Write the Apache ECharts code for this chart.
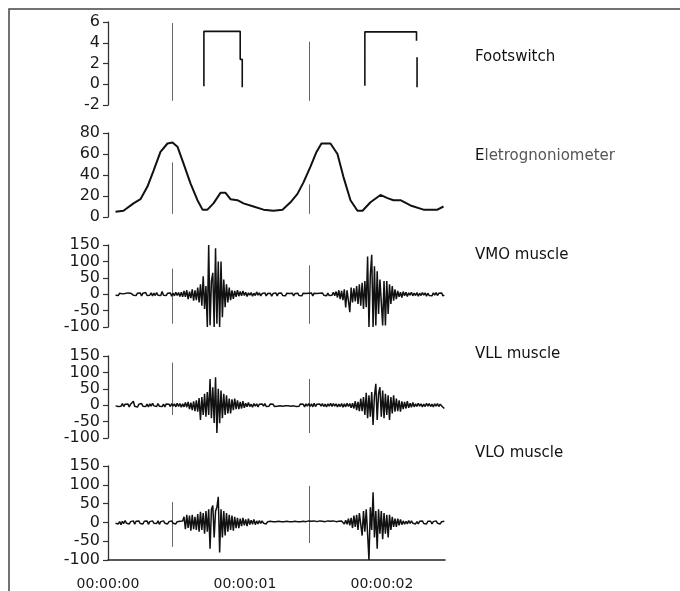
<!DOCTYPE html>
<html>
<head>
<meta charset="utf-8">
<script src="https://cdn.jsdelivr.net/npm/echarts@6.0.0/dist/echarts.min.js"></script>
<style>
  html, body { margin: 0; padding: 0; background: #fff; }
  #chart { width: 680px; height: 591px; }
</style>
</head>
<body>
<div id="chart"></div>
<script>
// time tick labels (seconds)
const timeTicks = [0, 1, 2];

// footswitch trace (null = no signal)
const footTime   = [0.700, 0.700, 0.965, 0.965, 0.980, 0.980, 1.400, 1.875, 1.875, 2.252, 2.252, 2.252, 2.256, 2.256];
const footValues = [-0.2,  5.1,   5.1,   2.4,   2.4,   -0.3,  null,  -0.15, 5.05,  5.05,  4.2,   null,  2.6,   -0.3];

// electrogoniometer (knee angle)
const gonioTime = [0.055, 0.113, 0.186, 0.237, 0.288, 0.332, 0.383, 0.434, 0.471, 0.507, 0.551, 0.602, 0.653,
  0.690, 0.726, 0.770, 0.821, 0.858, 0.894, 0.945, 0.989, 1.062, 1.135, 1.208, 1.274, 1.332, 1.383, 1.427,
  1.478, 1.522, 1.558, 1.624, 1.675, 1.719, 1.770, 1.821, 1.858, 1.916, 1.989, 2.040, 2.084, 2.135, 2.208,
  2.303, 2.405, 2.449];
const gonioValues = [5, 6, 13, 17, 29, 44, 62, 70, 71, 67, 51, 32, 16,
  7, 7, 13, 23, 23, 17, 16, 13, 10, 7, 6, 7, 14, 22, 33,
  48, 62, 70, 70, 60, 38, 16, 6, 6, 14, 21, 18, 16, 16, 11,
  7, 7, 10];

// EMG sampling (seconds)
const emgStart = 0.055;
const emgStep = 0.01;

const vmoValues = [
  -3, 2, -4, 3, -2, 1, -5, 2, -3, 4,
  -2, 3, 7, -3, 2, -4, 3, -2, 4, -5,
  3, -2, 5, -4, 2, -3, 4, -5, 3, -4,
  5, -3, 2, -4, 8, -3, 2, -4, 3, -2,
  4, -6, 3, -5, 6, -4, 5, -7, 6, -8,
  10, -8, 12, -15, 8, -12, 15, -20, 12, -18,
  20, -25, 30, -35, 55, -45, 25, -100, 150, -95,
  40, 65, -100, 140, -90, 100, -100, 100, -70, 45,
  -40, 30, -25, 20, -18, 12, -14, 10, -8, 12,
  -6, 8, -5, 10, -4, 6, -7, 4, -3, 5,
  -6, 3, -4, 7, -3, 4, -5, 2, -3, 4,
  -5, 2, -4, 3, -6, 2, -3, 4, -5, 3,
  -2, 4, -4, 2, -5, 3, -3, 2, -4, 3,
  -5, 2, -3, 3, -4, 2, -5, 3, -3, 2,
  -4, 3, -2, 4, -5, 3, -3, 2, -4, 3,
  -2, 4, -3, 2, -5, 3, -4, 2, -3, 6,
  -5, 8, -10, 12, -15, 10, -18, 15, -40, 12,
  -20, -55, 20, -25, 18, -22, 25, -30, 30, -35,
  35, -45, 40, -40, 115, -100, 60, 120, -100, 85,
  -95, 70, -60, 45, 50, -95, 40, -95, 40, -60,
  30, -30, 25, -20, 15, -15, 10, -8, 6, -10,
  8, -5, 6, -7, 4, -3, 6, -5, 3, -4,
  5, -6, 3, -4, 5, -3, 4, -6, 3, -4,
  2, -5, 4, -3, 5, -4, 3, -2, 4, -5,
  -3
];

const vllValues = [
  -2, 3, -4, 2, -3, 5, -4, 3, -2, 4,
  -5, 3, -2, 12, -3, 2, -6, 3, -2, 5,
  -3, 2, -4, 3, -5, 4, -3, 6, -2, 3,
  -4, 5, -3, 2, -4, 3, -5, 4, -2, 3,
  -4, 5, -3, 4, -5, 6, -4, 5, -6, 4,
  -5, 8, -6, 10, -12, 8, -15, 12, -18, 15,
  -20, 22, -45, 25, -30, 35, -35, 40, -30, 80,
  -40, 55, -54, 85, -85, 50, -55, 45, -40, 35,
  -30, 30, -25, 20, -25, 18, -15, 20, -12, 15,
  -12, 10, -10, 12, -8, 6, -5, 8, -4, 3,
  -6, 5, -3, 4, -5, 3, -2, 4, -3, 5,
  -4, 2, -3, 4, -2, 3, -4, 2, -3, 3,
  -2, 4, -3, 2, -2, 3, -2, 2, -3, 2,
  -2, 3, -4, 2, -3, 4, -2, 3, -5, 4,
  -3, 5, -4, 4, -5, 6, -4, 3, -2, 4,
  -3, 5, -4, 3, -5, 4, -3, 6, -4, 5,
  -3, 4, -5, 3, -4, 5, -6, 4, -5, 6,
  -4, 5, -8, 6, -10, 12, -15, 10, -18, 20,
  -18, 25, -30, 38, -40, 30, -35, 40, -60, 28,
  65, -45, 35, 55, -35, 45, -40, 35, -30, 30,
  -45, 25, -25, 30, -20, 20, -18, 15, -20, 12,
  -12, 10, -10, 12, -8, 6, -6, 8, -5, 4,
  -4, 6, -3, 4, -5, 3, -4, 6, -3, 5,
  -4, 3, -5, 4, -3, 5, -4, 3, 5, -6,
  -10
];

const vloValues = [
  -2, 3, -4, 2, -6, 3, -3, 5, -2, 3,
  -4, 2, -3, 4, -5, 3, -2, 4, -3, 2,
  -4, 3, -2, 4, -5, 2, -3, 4, -2, 3,
  -3, 4, -5, 2, -3, 4, -2, 3, -4, 2,
  -3, 4, -2, 3, -4, 2, -3, 3, -2, 4,
  15, -18, 20, -15, 18, -22, 20, -18, 15, -20,
  22, -25, 28, -20, 25, -30, 30, -25, 35, -70,
  35, 45, -40, 30, 40, 68, -80, 35, -40, 30,
  -35, 25, -25, 20, -20, 18, -22, 15, -15, 12,
  -15, 10, -10, 12, -8, 8, -10, 10, -6, 6,
  -5, 8, -6, 4, -4, 5, -3, 4, -2, 3,
  -4, 2, -3, 3, -2, 2, -3, 2, -2, 3,
  -2, 2, -3, 2, -2, 3, -2, 2, -3, 2,
  -2, 3, -2, 2, -3, 2, -2, 3, -2, 2,
  3, 4, 2, 3, 2, 4, 3, 2, 3, 4,
  2, 3, 4, 2, 3, 4, 2, 3, 2, 4,
  3, 2, 4, 3, -2, 4, 3, -4, 6, -5,
  10, -8, 12, -15, 18, -12, 20, -20, 25, 30,
  -35, 30, -25, 35, -30, -100, 40, -20, 80, -40,
  30, -70, 35, -30, 30, -45, 25, -30, 20, -40,
  20, -20, 15, -12, 10, -12, 10, -8, 8, -6,
  4, -5, 3, -4, 5, -3, 4, -2, 3, -4,
  2, -4, 3, -2, 4, -3, 2, -4, 3, -2,
  3, -4, 2, -3, 4, -2, 3, -4, 2, -3,
  3
];

// sync markers: times and [low, high] per panel
const markerTimes = [0.471, 1.471];
const footMarks  = [[-1.6, 5.9], [-1.6, 4.1]];
const gonioMarks = [[3, 52], [3, 31]];
const vmoMarks   = [[-90, 78], [-90, 88]];
const vllMarks   = [[-30, 130], [-85, 80]];
const vloMarks   = [[-65, 54], [-55, 97]];

const panelNames = ['Footswitch', 'Eletrognoniometer', 'VMO muscle', 'VLL muscle', 'VLO muscle'];

const chart = echarts.init(document.getElementById('chart'));

const grids = [
  { left: 108, right: 235, top: 22, height: 83 },
  { left: 108, right: 235, top: 133, height: 84 },
  { left: 108, right: 235, top: 245, height: 82 },
  { left: 108, right: 235, top: 356, height: 82 },
  { left: 108, right: 235, top: 466, height: 94 },
];

function yAxisFor(gridIndex, min, max, interval) {
  return {
    type: 'value', gridIndex, min, max, interval,
    axisLine: { show: true, lineStyle: { color: '#333', width: 1.3 } },
    axisTick: { show: true, length: 5, lineStyle: { color: '#333', width: 1.2 } },
    axisLabel: { color: '#1a1a1a', fontFamily: 'DejaVu Sans', fontSize: 16, margin: 8 },
    splitLine: { show: false },
  };
}

function xAxisFor(gridIndex) {
  const last = gridIndex === 4;
  return {
    type: 'value', gridIndex, min: 0, max: 2.46, interval: 1,
    show: last,
    axisLine: { show: last, onZero: false, lineStyle: { color: '#222', width: 1.5 } },
    axisTick: { show: false },
    axisLabel: {
      show: last, color: '#1a1a1a', fontFamily: 'DejaVu Sans', fontSize: 14, margin: 17,
      formatter: (v) => (timeTicks.includes(v) ? '00:00:0' + v : ''),
    },
    splitLine: { show: false },
  };
}

function traceSeries(gridIndex, data, width) {
  return {
    type: 'line', xAxisIndex: gridIndex, yAxisIndex: gridIndex, data,
    showSymbol: false, symbol: 'none', connectNulls: false, silent: true,
    lineStyle: { color: '#111', width },
  };
}

function markerSeries(gridIndex, marks) {
  return markerTimes.map((t, i) => ({
    type: 'line', xAxisIndex: gridIndex, yAxisIndex: gridIndex,
    data: [[t, marks[i][0]], [t, marks[i][1]]],
    showSymbol: false, symbol: 'none', silent: true,
    lineStyle: { color: '#666', width: 1 },
  }));
}

const emgData = (vals) => vals.map((v, i) => [emgStart + i * emgStep, v]);

const labelY = [57, 156, 255, 354, 453];

chart.setOption({
  animation: false,
  backgroundColor: '#fff',
  grid: grids,
  xAxis: [0, 1, 2, 3, 4].map(xAxisFor),
  yAxis: [
    yAxisFor(0, -2, 6, 2),
    yAxisFor(1, 0, 80, 20),
    yAxisFor(2, -100, 150, 50),
    yAxisFor(3, -100, 150, 50),
    yAxisFor(4, -100, 150, 50),
  ],
  series: [
    ...markerSeries(0, footMarks),
    ...markerSeries(1, gonioMarks),
    ...markerSeries(2, vmoMarks),
    ...markerSeries(3, vllMarks),
    ...markerSeries(4, vloMarks),
    traceSeries(0, footTime.map((t, i) => [t, footValues[i] === null ? '-' : footValues[i]]), 1.6),
    traceSeries(1, gonioTime.map((t, i) => [t, gonioValues[i]]), 2),
    traceSeries(2, emgData(vmoValues), 1.5),
    traceSeries(3, emgData(vllValues), 1.5),
    traceSeries(4, emgData(vloValues), 1.5),
  ],
  graphic: [
    {
      type: 'rect', silent: true,
      shape: { x: 9, y: 9, width: 700, height: 620 },
      style: { fill: 'none', stroke: '#444', lineWidth: 1.5 },
    },
    ...panelNames.map((name, i) => ({
      type: 'text', silent: true,
      x: 475, y: labelY[i],
      style: name === 'Eletrognoniometer'
        ? {
            text: '{a|E}{b|letrognoniometer}',
            rich: {
              a: { fill: '#111', font: '15px "DejaVu Sans"' },
              b: { fill: '#555', font: '15px "DejaVu Sans"' },
            },
            verticalAlign: 'middle',
          }
        : { text: name, fill: '#111', font: '15px "DejaVu Sans"', verticalAlign: 'middle' },
    })),
  ],
});
</script>
</body>
</html>
